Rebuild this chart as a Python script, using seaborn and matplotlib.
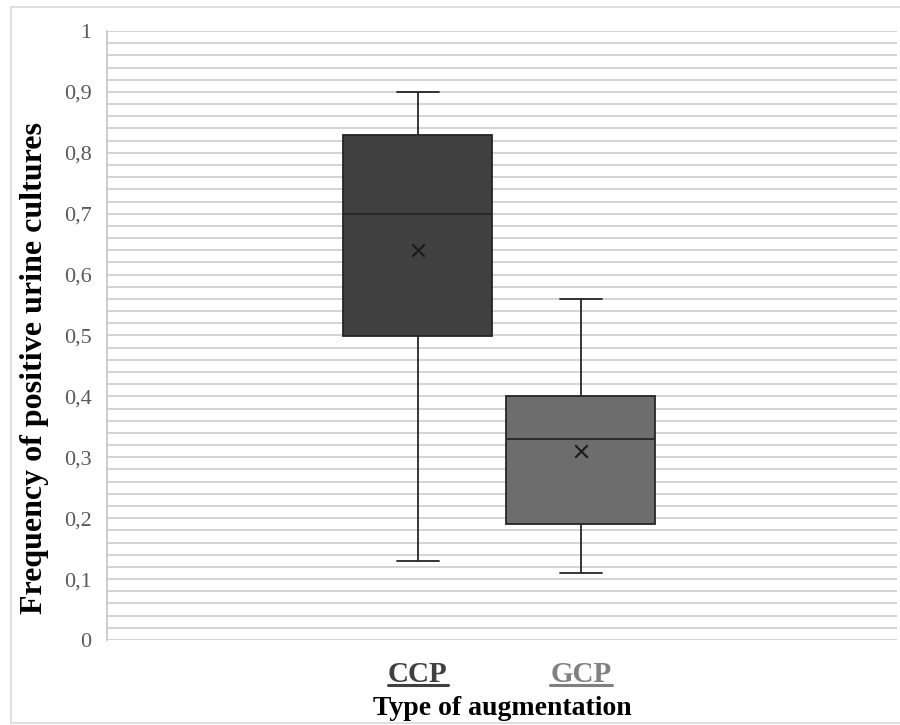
import numpy as np
import pandas as pd
import matplotlib
matplotlib.use("Agg")
import matplotlib.pyplot as plt
from matplotlib.lines import Line2D
from matplotlib.ticker import MultipleLocator, FuncFormatter
import seaborn as sns

# five-number summaries (min, Q1, median, Q3, max)
groups = ["CCP", "GCP"]
ccp_values = [0.13, 0.50, 0.70, 0.83, 0.90]
gcp_values = [0.11, 0.19, 0.33, 0.40, 0.56]
means = [0.64, 0.31]
box_colors = ["#404040", "#6d6d6d"]
label_colors = ["#404040", "#808080"]

df = pd.DataFrame({
    "group": ["CCP"] * len(ccp_values) + ["GCP"] * len(gcp_values),
    "value": ccp_values + gcp_values,
})

sns.set_style("white")
plt.rcParams["font.family"] = ["Liberation Serif", "DejaVu Serif"]

fig = plt.figure(figsize=(9, 7.25), dpi=100)
ax = fig.add_axes([107 / 900, 1 - 640 / 725, (897 - 107) / 900, (640 - 31) / 725])

sns.boxplot(data=df, x="group", y="value", hue="group", order=groups,
            palette=box_colors, width=0.914, whis=(0, 100), ax=ax,
            linecolor="#262626", linewidth=1.3, capwidths=0.26,
            legend=False, zorder=3)
sns.scatterplot(x=groups, y=means, marker="x", color="#1a1a1a", s=80,
                linewidth=1.5, ax=ax, zorder=4)

ax.set_xlim(-1.908, 2.939)
ax.set_ylim(0, 1)
ax.yaxis.set_major_locator(MultipleLocator(0.1))
ax.yaxis.set_minor_locator(MultipleLocator(0.02))
ax.yaxis.set_major_formatter(FuncFormatter(
    lambda v, p: "0" if abs(v) < 1e-9 else ("1" if abs(v - 1) < 1e-9 else f"{v:.1f}".replace(".", ","))))
ax.grid(axis="y", which="both", color="#d4d4d4", linewidth=1.4, zorder=0)
ax.set_axisbelow(True)
for side in ["top", "right", "bottom"]:
    ax.spines[side].set_visible(False)
ax.spines["left"].set_color("#c8c8c8")
ax.spines["left"].set_linewidth(1.3)
ax.tick_params(axis="y", length=0, pad=11, labelsize=16, labelcolor="#595959")
ax.tick_params(axis="x", length=0, pad=15, labelsize=21)

for lbl, c in zip(ax.get_xticklabels(), label_colors):
    lbl.set_color(c)
    lbl.set_fontweight("bold")

ax.set_xlabel("Type of augmentation", fontsize=20, fontweight="bold", color="black", labelpad=6)
ax.set_ylabel("Frequency of positive urine cultures", fontsize=23, fontweight="bold",
              color="black")
ax.yaxis.set_label_coords(-0.074, 0.447)

# underline the category labels
fig.canvas.draw()
renderer = fig.canvas.get_renderer()
for lbl, c in zip(ax.get_xticklabels(), label_colors):
    bb = lbl.get_window_extent(renderer).transformed(fig.transFigure.inverted())
    fig.add_artist(Line2D([bb.x0, bb.x1], [bb.y0 + 0.004, bb.y0 + 0.004],
                          transform=fig.transFigure, color=c, linewidth=2.2))

# outer chart frame
frame_kw = dict(transform=fig.transFigure, color="#d9d9d9", linewidth=1.2)
fig.add_artist(Line2D([11 / 900, 11 / 900], [1 - 7 / 725, 1 - 723 / 725], **frame_kw))
fig.add_artist(Line2D([11 / 900, 1], [1 - 7 / 725, 1 - 7 / 725], **frame_kw))
fig.add_artist(Line2D([11 / 900, 1], [1 - 723 / 725, 1 - 723 / 725], **frame_kw))

fig.savefig("out.png", dpi=100)
plt.close(fig)
